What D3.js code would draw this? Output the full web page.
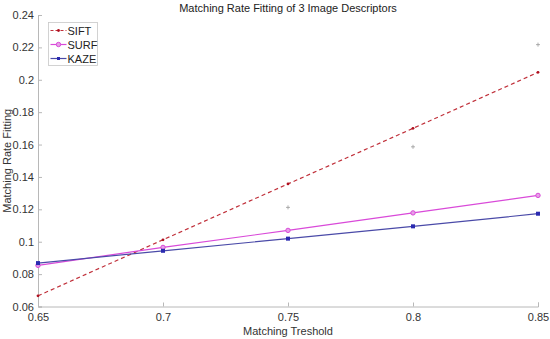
<!DOCTYPE html>
<html>
<head>
<meta charset="utf-8">
<script src="https://cdn.jsdelivr.net/npm/d3@7"></script>
<style>
  body { margin: 0; background: #fff; }
  svg { font-family: "Liberation Sans", Arial, sans-serif; }
</style>
</head>
<body>
<div id="chart"></div>
<script>
const thresholds = [0.65, 0.7, 0.75, 0.8, 0.85];
const siftFit = [0.0666, 0.1012, 0.1357, 0.1700, 0.2046];
const surfFit = [0.0854, 0.0965, 0.1070, 0.1178, 0.1286];
const kazeFit = [0.0868, 0.0944, 0.1019, 0.1095, 0.1173];
const siftRawX = [0.75, 0.8, 0.85];
const siftRaw = [0.1212, 0.1586, 0.2217];
const xTicks = [0.65, 0.7, 0.75, 0.8, 0.85];
const yTicks = [0.06, 0.08, 0.1, 0.12, 0.14, 0.16, 0.18, 0.2, 0.22, 0.24];

const series = [
  { name: 'SIFT', values: siftFit, color: '#c0303a', dash: '4,3', marker: 'dot' },
  { name: 'SURF', values: surfFit, color: '#d94ad9', dash: null, marker: 'circle' },
  { name: 'KAZE', values: kazeFit, color: '#4a4aa8', dash: null, marker: 'square' },
];

const w = 550;
const h = 339;
const m = { t: 15, r: 12, b: 32.5, l: 38 };

const svg = d3.select('#chart').append('svg').attr('width', w).attr('height', h);

const x = d3.scaleLinear().domain([0.65, 0.85]).range([m.l, w - m.r]);
const y = d3.scaleLinear().domain([0.06, 0.24]).range([h - m.b, m.t]);
const fmt = (d) => String(+d.toFixed(2));

// axes, MATLAB style with inward ticks
const xAxis = svg
  .append('g')
  .attr('transform', `translate(0,${h - m.b})`)
  .call(d3.axisBottom(x).tickValues(xTicks).tickSize(-4).tickPadding(7).tickFormat(fmt));
const yAxis = svg
  .append('g')
  .attr('transform', `translate(${m.l},0)`)
  .call(d3.axisLeft(y).tickValues(yTicks).tickSize(-4).tickPadding(4).tickFormat(fmt));

[xAxis, yAxis].forEach((g) => {
  g.select('.domain').attr('stroke', '#b8b8b8').attr('stroke-width', 1);
  g.selectAll('.tick line').attr('stroke', '#b8b8b8');
  g.selectAll('.tick text').attr('fill', '#333').style('font-size', '11px');
});

// fitted lines
const line = d3
  .line()
  .x((d, i) => x(thresholds[i]))
  .y((d) => y(d));

series.forEach((s) => {
  svg
    .append('path')
    .datum(s.values)
    .attr('fill', 'none')
    .attr('stroke', s.color)
    .attr('stroke-width', 1.2)
    .attr('stroke-dasharray', s.dash)
    .attr('d', line);

  const g = svg.append('g');
  if (s.marker === 'dot') {
    g.selectAll('circle')
      .data(s.values)
      .join('circle')
      .attr('cx', (d, i) => x(thresholds[i]))
      .attr('cy', (d) => y(d))
      .attr('r', 1.4)
      .attr('fill', '#b01020');
  } else if (s.marker === 'circle') {
    g.selectAll('circle')
      .data(s.values)
      .join('circle')
      .attr('cx', (d, i) => x(thresholds[i]))
      .attr('cy', (d) => y(d))
      .attr('r', 2.2)
      .attr('fill', '#e7a0e7')
      .attr('stroke', s.color)
      .attr('stroke-width', 1);
  } else {
    g.selectAll('rect')
      .data(s.values)
      .join('rect')
      .attr('x', (d, i) => x(thresholds[i]) - 2)
      .attr('y', (d) => y(d) - 2)
      .attr('width', 4)
      .attr('height', 4)
      .attr('fill', '#2a2ab0');
  }
});

// raw SIFT points
svg
  .append('g')
  .selectAll('path')
  .data(siftRaw)
  .join('path')
  .attr('d', (d, i) => {
    const cx = x(siftRawX[i]);
    const cy = y(d);
    return `M${cx - 2},${cy}H${cx + 2}M${cx},${cy - 2}V${cy + 2}`;
  })
  .attr('stroke', '#999')
  .attr('stroke-width', 0.8);

// title and labels
svg
  .append('text')
  .attr('x', (m.l + w - m.r) / 2)
  .attr('y', 12)
  .attr('text-anchor', 'middle')
  .attr('fill', '#222')
  .style('font-size', '11px')
  .text('Matching Rate Fitting of 3 Image Descriptors');

svg
  .append('text')
  .attr('x', (m.l + w - m.r) / 2)
  .attr('y', 335)
  .attr('text-anchor', 'middle')
  .attr('fill', '#333')
  .style('font-size', '11px')
  .text('Matching Treshold');

svg
  .append('text')
  .attr('transform', `translate(11,${(m.t + h - m.b) / 2}) rotate(-90)`)
  .attr('text-anchor', 'middle')
  .attr('fill', '#333')
  .style('font-size', '11px')
  .text('Matching Rate Fitting');

// legend
const leg = svg.append('g').attr('transform', 'translate(48.5,22.5)');
leg.append('rect').attr('width', 49).attr('height', 43).attr('fill', '#fff').attr('stroke', '#c8c8c8').attr('stroke-width', 0.8);
series.forEach((s, i) => {
  const ly = 8 + i * 14;
  leg.append('line')
    .attr('x1', 2).attr('x2', 18).attr('y1', ly).attr('y2', ly)
    .attr('stroke', s.color).attr('stroke-width', 1.2).attr('stroke-dasharray', s.dash ? '3,2' : null);
  if (s.marker === 'dot') {
    leg.append('circle').attr('cx', 10).attr('cy', ly).attr('r', 1.4).attr('fill', '#b01020');
  } else if (s.marker === 'circle') {
    leg.append('circle').attr('cx', 10).attr('cy', ly).attr('r', 2.2).attr('fill', '#e7a0e7').attr('stroke', s.color);
  } else {
    leg.append('rect').attr('x', 8.5).attr('y', ly - 1.5).attr('width', 3).attr('height', 3).attr('fill', '#2a2ab0');
  }
  leg.append('text')
    .attr('x', 19)
    .attr('y', ly + 4)
    .attr('fill', '#222')
    .style('font-size', '11px')
    .text(s.name);
});
</script>
</body>
</html>
